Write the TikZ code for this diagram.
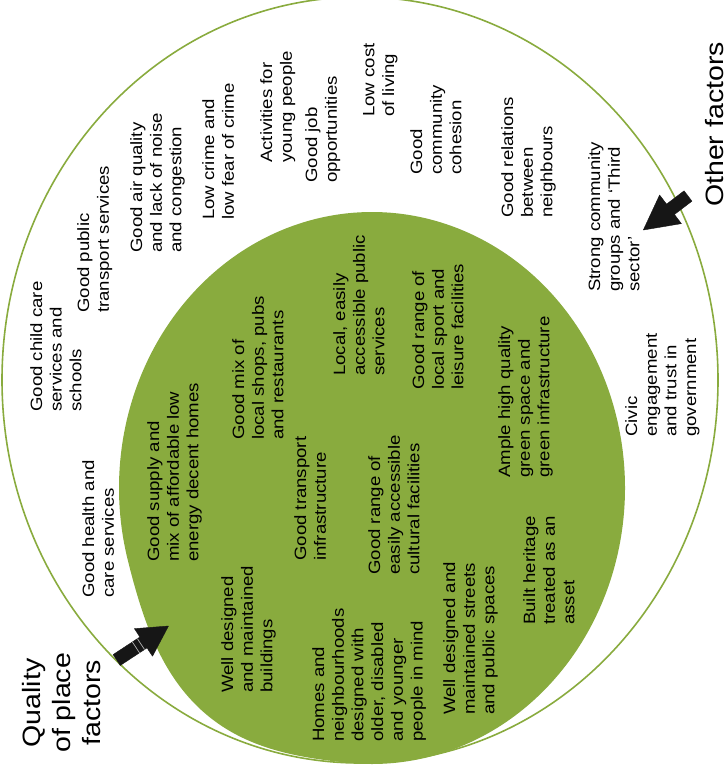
\documentclass[tikz,border=0pt]{standalone}
\usepackage{fontspec}
\setmainfont{Liberation Sans}
\usetikzlibrary{calc}
\definecolor{leaf}{RGB}{137,171,62}
\definecolor{ink}{RGB}{22,22,22}
\newcommand\smallfs{\fontsize{18.6}{22.4}\selectfont}
\newcommand\bigfs{\fontsize{28.5}{34}\selectfont}
\begin{document}
\begin{tikzpicture}[x=1pt,y=-1pt,
  lbl/.style={rotate=90, yscale=0.88, anchor=north west, inner sep=0pt, align=left, font=\smallfs, text=black},
  biglbl/.style={lbl, font=\bigfs, align=center},
  outerring/.style={draw=leaf, line width=1.6pt},
  innerdisc/.style={fill=leaf},
  blockarrow/.style={fill=ink, draw=ink, line width=0.4pt, line join=round},
  band/.style={draw=gray!60, line width=0.7pt}]
\useasboundingbox (0,0) rectangle (725,778);
% outer ring
\draw[outerring] (360,380) ellipse [x radius=358, y radius=383];
% inner green disc (ellipse, slightly fuller towards the lower left)
\fill[innerdisc] plot[domain=0:358, samples=180, smooth cycle, variable=\t]
 ({372+253*cos(\t)*(1+0.05*(\t>94)*(\t<166)*pow(sin(2.5714*(\t-95)),2))},
  {488+276*sin(\t)*(1+0.05*(\t>94)*(\t<166)*pow(sin(2.5714*(\t-95)),2))});
% outer factors
\node[lbl] (childcare) at (30,412) {Good child care\\services and\\schools};
\node[lbl] (health) at (82,598) {Good health and\\care services};
\node[lbl] (pubtrans) at (77,313) {Good public\\transport services};
\node[lbl] (air) at (130,253) {Good air quality\\and lack of noise\\and congestion};
\node[lbl] (crime) at (202,220) {Low crime and\\low fear of crime};
\node[lbl] (young) at (260,163) {Activities for\\young people};
\node[lbl] (jobs) at (305,183) {Good job\\opportunities};
\node[lbl] (cost) at (363,117) {Low cost\\of living};
\node[lbl] (cohesion) at (410,175) {Good\\community\\cohesion};
\node[lbl] (relations) at (501,218) {Good relations\\between\\neighbours};
\node[lbl] (groups) at (588,292) {Strong community\\groups and `Third\\sector'};
\node[lbl] (civic) at (625,437) {Civic\\engagement\\and trust in\\government};
% inner factors
\node[lbl] (supply) at (147,562) {Good supply and\\mix of affordable low\\energy decent homes};
\node[lbl] (shops) at (232,440) {Good mix of\\local shops, pubs\\and restaurants};
\node[lbl] (buildings) at (221,693) {Well designed\\and maintained\\buildings};
\node[lbl] (transinf) at (294,561) {Good transport\\infrastructure};
\node[lbl] (homes) at (312,742) {Homes and\\neighbourhoods\\designed with\\older, disabled\\and younger\\people in mind};
\node[lbl] (local) at (333,376) {Local, easily\\accessible public\\services};
\node[lbl] (culture) at (368,575) {Good range of\\easily accessible\\cultural facilities};
\node[lbl] (sport) at (412,390) {Good range of\\local sport and\\leisure facilities};
\node[lbl] (streets) at (443,715) {Well designed and\\maintained streets\\and public spaces};
\node[lbl] (green) at (498,478) {Ample high quality\\green space and\\green infrastructure};
\node[lbl] (heritage) at (523,625) {Built heritage\\treated as an\\asset};
% headings
\node[biglbl] (quality) at (22,753) {Quality\\of place\\factors};
\node[biglbl] (other) at (705,207) {Other factors};
% arrow 1
\coordinate (t1) at (116.7,660);
\coordinate (p1) at (168.5,626);
\coordinate (n1) at ($(t1)!32pt!(p1)$);
\fill[blockarrow] ($(t1)!6.5pt!90:(p1)$) -- ($(n1)!6.5pt!90:(p1)$) -- ($(n1)!16.5pt!90:(p1)$) -- (p1)
  -- ($(n1)!16.5pt!-90:(p1)$) -- ($(n1)!6.5pt!-90:(p1)$) -- ($(t1)!6.5pt!-90:(p1)$) -- cycle;
\coordinate (b1) at ($(t1)!23pt!(p1)$);
\coordinate (b2) at ($(t1)!29pt!(p1)$);
\draw[band] ($(b1)!6.5pt!90:(p1)$) -- ($(b1)!6.5pt!-90:(p1)$);
\draw[band] ($(b2)!6.5pt!90:(p1)$) -- ($(b2)!6.5pt!-90:(p1)$);
% arrow 2
\coordinate (t2) at (688,196);
\coordinate (p2) at (643.3,230);
\coordinate (n2) at ($(t2)!22pt!(p2)$);
\fill[blockarrow] ($(t2)!6.5pt!90:(p2)$) -- ($(n2)!6.5pt!90:(p2)$) -- ($(n2)!18pt!90:(p2)$) -- (p2)
  -- ($(n2)!18pt!-90:(p2)$) -- ($(n2)!6.5pt!-90:(p2)$) -- ($(t2)!6.5pt!-90:(p2)$) -- cycle;
\end{tikzpicture}
\end{document}
